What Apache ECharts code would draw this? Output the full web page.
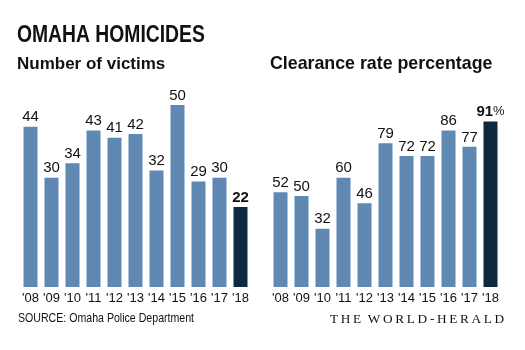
<!DOCTYPE html>
<html>
<head>
<meta charset="utf-8">
<script src="https://cdn.jsdelivr.net/npm/echarts@6/dist/echarts.min.js"></script>
<style>
  html, body { margin: 0; padding: 0; background: #fff; }
  #chart { width: 525px; height: 350px; }
</style>
</head>
<body>
<div id="chart"></div>
<script>
// chart data
const years = ["'08", "'09", "'10", "'11", "'12", "'13", "'14", "'15", "'16", "'17", "'18"];
const victims = [44, 30, 34, 43, 41, 42, 32, 50, 29, 30, 22];
const clearance = [52, 50, 32, 60, 46, 79, 72, 72, 86, 77, 91];

const BLUE = '#5f89b3';
const DARK = '#0c2940';
const INK = '#111';
const SANS = '"Liberation Sans", Arial, sans-serif';
const SERIF = '"Liberation Serif", "Times New Roman", serif';

// last bar highlighted dark, its label bold
function toItems(vals, lastFmt) {
    return vals.map(function (v, i) {
        if (i < vals.length - 1) return v;
        let item = {
            value: v,
            itemStyle: { color: DARK },
            label: { fontWeight: 'bold' }
        };
        if (lastFmt) {
            item.label.formatter = lastFmt;
        }
        return item;
    });
}

// plain text placed by its vertical middle, optionally squeezed to look condensed
function txt(text, x, y, size, weight, family, sx) {
    return {
        type: 'text',
        x: x,
        y: y,
        scaleX: sx || 1,
        silent: true,
        style: {
            text: text,
            x: 0,
            y: 0,
            fontSize: size,
            fontWeight: weight,
            fontFamily: family,
            fill: INK,
            align: 'left',
            verticalAlign: 'middle'
        }
    };
}

const labelStyle = {
    show: true,
    position: 'top',
    distance: 2,
    color: INK,
    fontSize: 15,
    fontFamily: SANS
};

const xAxisBase = {
    type: 'category',
    data: years,
    axisLine: { show: false },
    axisTick: { show: false },
    axisLabel: { color: INK, fontSize: 13, fontFamily: SANS, margin: 5, interval: 0 }
};

const chart = echarts.init(document.getElementById('chart'));
chart.setOption({
    animation: false,
    graphic: [
        txt('OMAHA HOMICIDES', 17, 36, 23, 'bold', SANS, 0.84),
        txt('Number of victims', 17, 64, 17, 'bold', SANS),
        txt('Clearance rate percentage', 270, 64, 17.8, 'bold', SANS),
        txt('SOURCE: Omaha Police Department', 18, 318.5, 13, 'normal', SANS, 0.815),
        txt('T\u2009H\u2009E  W\u2009O\u2009R\u2009L\u2009D\u2009-\u2009H\u2009E\u2009R\u2009A\u2009L\u2009D',
            330, 320, 13.3, 'normal', SERIF)
    ],
    grid: [
        { left: 20, top: 105, width: 231, height: 182 },
        { left: 270, top: 105, width: 231, height: 182 }
    ],
    xAxis: [
        Object.assign({ gridIndex: 0 }, xAxisBase),
        Object.assign({ gridIndex: 1 }, xAxisBase)
    ],
    yAxis: [
        { gridIndex: 0, type: 'value', min: 0, max: 50, show: false },
        { gridIndex: 1, type: 'value', min: 0, max: 100, show: false }
    ],
    series: [
        {
            type: 'bar',
            xAxisIndex: 0,
            yAxisIndex: 0,
            barWidth: 14,
            itemStyle: { color: BLUE },
            label: labelStyle,
            data: toItems(victims)
        },
        {
            type: 'bar',
            xAxisIndex: 1,
            yAxisIndex: 1,
            barWidth: 14,
            itemStyle: { color: BLUE },
            label: Object.assign({}, labelStyle, {
                rich: {
                    b: { fontSize: 15, fontWeight: 'bold', color: INK, fontFamily: SANS },
                    p: { fontSize: 13, fontWeight: 'normal', color: INK, fontFamily: SANS }
                }
            }),
            data: toItems(clearance, function (p) { return '{b|' + p.value + '}{p|%}'; })
        }
    ]
});
</script>
</body>
</html>
